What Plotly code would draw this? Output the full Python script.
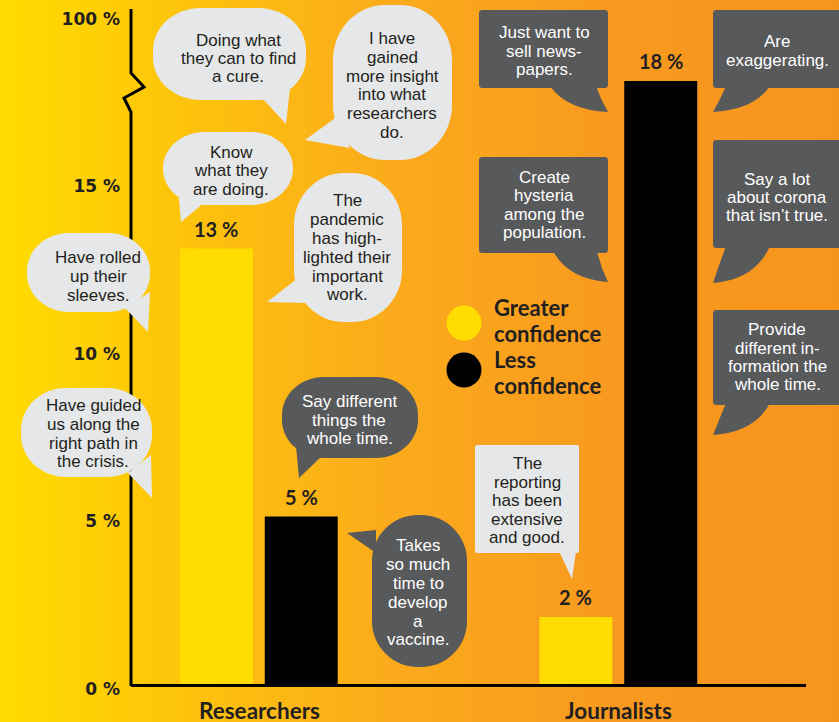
import base64
import plotly.graph_objects as go

# ---- data -------------------------------------------------------------
categories = ["Researchers", "Journalists"]
greater_confidence = [13, 2]
less_confidence = [5, 18]

y_tick_values = [0, 5, 10, 15, 20]
y_tick_labels = ["0 %", "5 %", "10 %", "15 %", "100 %"]

legend_labels = [["Greater", "confidence"], ["Less", "confidence"]]

# quotes shown in the speech bubbles
quotes_positive_researchers = [
    ["Doing what", "they can to find", "a cure."],
    ["I have", "gained", "more insight", "into what", "researchers", "do."],
    ["Know", "what they", "are doing."],
    ["The", "pandemic", "has high-", "lighted their", "important", "work."],
    ["Have rolled", "up their", "sleeves."],
    ["Have guided", "us along the", "right path in", "the crisis."],
]
quotes_negative_researchers = [
    ["Say different", "things the", "whole time."],
    ["Takes", "so much", "time to", "develop", "a", "vaccine."],
]
quotes_negative_journalists = [
    ["Just want to", "sell news-", "papers."],
    ["Are", "exaggerating."],
    ["Create", "hysteria", "among the", "population."],
    ["Say a lot", "about corona", "that isn\u2019t true."],
    ["Provide", "different in-", "formation the", "whole time."],
]
quotes_positive_journalists = [
    ["The", "reporting", "has been", "extensive", "and good."],
]

# ---- styling ----------------------------------------------------------
W, H = 839, 722
YELLOW = "#FFDD00"
BLACK = "#000000"
LIGHT = "#E6E7E8"
DARK = "#58595B"
INK = "#231F20"
BOLD_FONT = "Lato"
TICK_FONT = "DejaVu Sans"
QUOTE_FONT = "Liberation Sans"
QUOTE_SIZE = 17
QUOTE_LINE = 18      # tight leading of the quote text
LEGEND_SIZE = 22
LEGEND_LINE = 26

# plot area in pixels
X_LEFT, X_RIGHT = 131, 806
Y_TOP, Y_BASE = 9, 684
Y_MAX = 20.15

BAR_WIDTH = 0.203
OFFSET_GREATER = -0.22
OFFSET_LESS = 0.016


def px(x):
    return x / W


def py(y):
    return 1 - y / H


def pt(x, y):
    return f"{px(x):.5f},{py(y):.5f}"


def rounded_rect(x0, y0, x1, y1, rx, ry):
    k = 0.5523
    return (
        f"M{pt(x0 + rx, y0)} L{pt(x1 - rx, y0)} "
        f"C{pt(x1 - rx + k * rx, y0)} {pt(x1, y0 + ry - k * ry)} {pt(x1, y0 + ry)} "
        f"L{pt(x1, y1 - ry)} "
        f"C{pt(x1, y1 - ry + k * ry)} {pt(x1 - rx + k * rx, y1)} {pt(x1 - rx, y1)} "
        f"L{pt(x0 + rx, y1)} "
        f"C{pt(x0 + rx - k * rx, y1)} {pt(x0, y1 - ry + k * ry)} {pt(x0, y1 - ry)} "
        f"L{pt(x0, y0 + ry)} "
        f"C{pt(x0, y0 + ry - k * ry)} {pt(x0 + rx - k * rx, y0)} {pt(x0 + rx, y0)} Z"
    )


def straight_tail(b1, b2, tip):
    return f"M{pt(*b1)} L{pt(*tip)} L{pt(*b2)} Z"


def curved_tail(b1, ctrl, tip, b2, ctrl2):
    return f"M{pt(*b1)} Q{pt(*ctrl)} {pt(*tip)} Q{pt(*ctrl2)} {pt(*b2)} Z"


# bubble geometry: body box, corner radii, tail, text centre and line positions
bubbles = [
    # researchers, positive (light, rounded)
    dict(lines=quotes_positive_researchers[0], fill=LIGHT, body=(153, 8, 306, 100, 48, 42),
         tail=("s", (262, 98), (290, 88), (286, 124)), cx=238, ys=[40, 58, 76]),
    dict(lines=quotes_positive_researchers[1], fill=LIGHT, body=(333, 5, 452, 160, 52, 55),
         tail=("s", (338, 116), (350, 148), (305, 140)), cx=392, ys=[38, 57, 76, 94, 113, 132]),
    dict(lines=quotes_positive_researchers[2], fill=LIGHT, body=(163, 132, 293, 205, 42, 36),
         tail=("s", (178, 188), (205, 202), (181, 222)), cx=231, ys=[152, 170, 189]),
    dict(lines=quotes_positive_researchers[3], fill=LIGHT, body=(294, 173, 402, 322, 50, 52),
         tail=("s", (298, 278), (306, 303), (267, 302)), cx=347, ys=[200, 219, 238, 257, 276, 294]),
    dict(lines=quotes_positive_researchers[4], fill=LIGHT, body=(27, 233, 150, 312, 42, 38),
         tail=("s", (125, 308), (150, 292), (148, 332)), cx=98, ys=[257, 276, 295]),
    dict(lines=quotes_positive_researchers[5], fill=LIGHT, body=(21, 388, 152, 477, 45, 42),
         tail=("s", (128, 473), (151, 455), (152, 498)), cx=93, ys=[405, 424, 443, 461]),
    # researchers, negative (dark, rounded)
    dict(lines=quotes_negative_researchers[0], fill=DARK, body=(282, 377, 418, 458, 42, 38),
         tail=("s", (296, 446), (322, 456), (299, 478)), cx=349, ys=[401, 420, 438]),
    dict(lines=quotes_negative_researchers[1], fill=DARK, body=(372, 515, 467, 667, 46, 46),
         tail=("s", (376, 530), (376, 553), (347, 533)), cx=418, ys=[545, 564, 583, 602, 621, 639]),
    # journalists, negative (dark, rectangular)
    dict(lines=quotes_negative_journalists[0], fill=DARK, body=(479, 10, 608, 88, 3, 3),
         tail=("c", (550, 86), (567, 110), (608, 112), (596, 86), (601, 100)), cx=544, ys=[32, 51, 69]),
    dict(lines=quotes_negative_journalists[1], fill=DARK, body=(713, 10, 845, 88, 3, 3),
         tail=("c", (770, 86), (754, 110), (713, 112), (726, 86), (720, 100)), cx=777, ys=[41, 60]),
    dict(lines=quotes_negative_journalists[2], fill=DARK, body=(479, 157, 608, 253, 3, 3),
         tail=("c", (553, 251), (568, 279), (608, 282), (597, 251), (601, 268)), cx=544,
         ys=[177, 195, 214, 232]),
    dict(lines=quotes_negative_journalists[3], fill=DARK, body=(713, 140, 845, 248, 3, 3),
         tail=("c", (770, 246), (755, 280), (713, 283), (726, 246), (719, 265)), cx=777,
         ys=[179, 197, 215]),
    dict(lines=quotes_negative_journalists[4], fill=DARK, body=(713, 310, 845, 405, 3, 3),
         tail=("c", (770, 403), (755, 432), (713, 435), (726, 403), (719, 420)), cx=777,
         ys=[329, 348, 366, 384]),
    # journalists, positive (light, rectangular)
    dict(lines=quotes_positive_journalists[0], fill=LIGHT, body=(475, 445, 579, 553, 2, 2),
         tail=("s", (559, 551), (576, 551), (572, 579)), cx=527, ys=[463, 482, 500, 519, 537]),
]

# ---- figure -----------------------------------------------------------
fig = go.Figure()

fig.add_trace(go.Bar(
    x=categories, y=greater_confidence, name="Greater confidence",
    width=BAR_WIDTH, offset=OFFSET_GREATER,
    marker=dict(color=YELLOW, line=dict(width=0)), showlegend=False, hoverinfo="skip",
))
fig.add_trace(go.Bar(
    x=categories, y=less_confidence, name="Less confidence",
    width=BAR_WIDTH, offset=OFFSET_LESS,
    marker=dict(color=BLACK, line=dict(width=0)), showlegend=False, hoverinfo="skip",
))

shapes = []
annotations = []

# vertical axis with a zig-zag break below the 100 % mark (drawn first so bubbles sit on top)
axis_path = (f"M{pt(131, Y_TOP)} L{pt(131, 73)} L{pt(144, 87)} L{pt(124, 98)} "
             f"L{pt(131, 112)} L{pt(131, 686)}")
shapes.append(dict(type="path", path=axis_path, xref="paper", yref="paper",
                   line=dict(color=BLACK, width=3), layer="above"))

# category names under the baseline
for i, name in enumerate(categories):
    annotations.append(dict(
        x=i, y=py(710), xref="x", yref="paper", text=name, showarrow=False,
        xanchor="center", yanchor="middle", height=22, borderpad=0,
        font=dict(family=BOLD_FONT, size=22.5, color=INK, weight="bold"),
    ))

# value labels above the bars
for values, off in ((greater_confidence, OFFSET_GREATER), (less_confidence, OFFSET_LESS)):
    for i, v in enumerate(values):
        annotations.append(dict(
            x=i + off + BAR_WIDTH / 2, y=v, xref="x", yref="y",
            text=f"{v} %", showarrow=False, xanchor="center", yanchor="bottom", yshift=6,
            font=dict(family=BOLD_FONT, size=20, color=INK, weight="bold"),
        ))

# speech bubbles
for b in bubbles:
    x0, y0, x1, y1, rx, ry = b["body"]
    t = b["tail"]
    if t[0] == "s":
        tail_path = straight_tail(t[1], t[2], t[3])
    else:
        tail_path = curved_tail(t[1], t[2], t[3], t[4], t[5])
    for path in (tail_path, rounded_rect(x0, y0, x1, y1, rx, ry)):
        shapes.append(dict(type="path", path=path, xref="paper", yref="paper",
                           fillcolor=b["fill"], line=dict(width=0), layer="above"))
    color = INK if b["fill"] == LIGHT else "#FFFFFF"
    for line, yy in zip(b["lines"], b["ys"]):
        annotations.append(dict(
            x=px(b["cx"]), y=py(yy), xref="paper", yref="paper", text=line,
            showarrow=False, xanchor="center", yanchor="middle", height=QUOTE_LINE,
            borderpad=0,
            font=dict(family=QUOTE_FONT, size=QUOTE_SIZE, color=color),
        ))

# legend drawn as large dots with two-line labels
legend_items = ((legend_labels[0], YELLOW, 323, 320), (legend_labels[1], BLACK, 370, 372))
for (label_lines, color, cy, mid) in legend_items:
    r = 17.5
    shapes.append(dict(type="circle", xref="paper", yref="paper",
                       x0=px(464 - r), x1=px(464 + r), y0=py(cy + r), y1=py(cy - r),
                       fillcolor=color, line=dict(width=0), layer="above"))
    for k, text in enumerate(label_lines):
        ty = mid + (k - 0.5) * LEGEND_LINE
        annotations.append(dict(
            x=px(493), y=py(ty), xref="paper", yref="paper", text=text, showarrow=False,
            xanchor="left", yanchor="middle", align="left", height=LEGEND_LINE - 2,
            borderpad=0,
            font=dict(family=BOLD_FONT, size=LEGEND_SIZE, color=INK, weight="bold"),
        ))

# warm yellow-to-orange backdrop
svg = (
    f'<svg xmlns="http://www.w3.org/2000/svg" width="{W}" height="{H}" preserveAspectRatio="none">'
    '<defs><linearGradient id="g" x1="0" y1="0" x2="1" y2="0">'
    '<stop offset="0" stop-color="#FFDC00"/>'
    '<stop offset="0.15" stop-color="#FECB07"/>'
    '<stop offset="0.45" stop-color="#FBAC1B"/>'
    '<stop offset="0.72" stop-color="#F89A1F"/>'
    '<stop offset="1" stop-color="#F7941D"/>'
    '</linearGradient></defs>'
    f'<rect width="{W}" height="{H}" fill="url(#g)"/></svg>'
)
bg_src = "data:image/svg+xml;base64," + base64.b64encode(svg.encode()).decode()

x_span = 359.5  # pixels per category step
x_center0 = 259
fig.update_layout(
    width=W, height=H, autosize=False,
    margin=dict(l=0, r=0, t=0, b=0, autoexpand=False),
    paper_bgcolor="#FBAC1B", plot_bgcolor="rgba(0,0,0,0)",
    barmode="overlay",
    images=[dict(source=bg_src, xref="paper", yref="paper", x=0, y=1, sizex=1, sizey=1,
                 xanchor="left", yanchor="top", sizing="stretch", layer="below")],
    xaxis=dict(
        domain=[px(X_LEFT), px(X_RIGHT)],
        range=[(X_LEFT - x_center0) / x_span, (X_RIGHT - x_center0) / x_span],
        type="category", showgrid=False, zeroline=False, automargin=False,
        showline=True, linecolor=BLACK, linewidth=3, ticks="", showticklabels=False,
    ),
    yaxis=dict(
        domain=[py(Y_BASE), py(Y_TOP)], range=[0, Y_MAX],
        tickvals=y_tick_values, ticktext=y_tick_labels, automargin=False,
        showgrid=False, zeroline=False, showline=False, ticks="",
        ticklabelstandoff=10, ticklabelshift=5,
        tickfont=dict(family=TICK_FONT, size=17, color=INK, weight="bold"),
    ),
    shapes=shapes, annotations=annotations,
)

fig.write_html("out.html")
